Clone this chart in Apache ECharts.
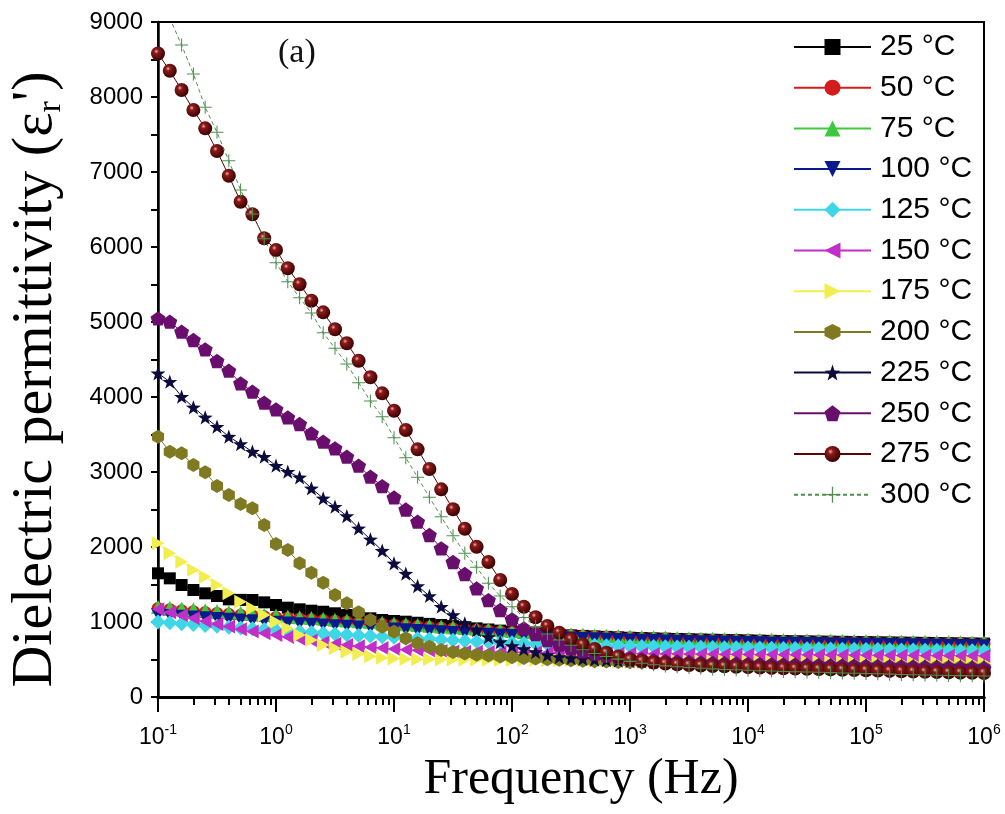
<!DOCTYPE html>
<html><head><meta charset="utf-8">
<script src="https://cdn.jsdelivr.net/npm/echarts@6/dist/echarts.min.js"></script>
<style>html,body{margin:0;padding:0;background:#fff}#c{width:1005px;height:814px}</style>
</head><body><div id="c"></div>
<script>
// log10 of frequency (Hz), 10 points per decade from 10^-1 to 10^6
const logFreq = [
 -1.0,-0.9,-0.8,-0.7,-0.6,-0.5,-0.4,-0.3,-0.2,-0.1,
  0.0, 0.1, 0.2, 0.3, 0.4, 0.5, 0.6, 0.7, 0.8, 0.9,
  1.0, 1.1, 1.2, 1.3, 1.4, 1.5, 1.6, 1.7, 1.8, 1.9,
  2.0, 2.1, 2.2, 2.3, 2.4, 2.5, 2.6, 2.7, 2.8, 2.9,
  3.0, 3.1, 3.2, 3.3, 3.4, 3.5, 3.6, 3.7, 3.8, 3.9,
  4.0, 4.1, 4.2, 4.3, 4.4, 4.5, 4.6, 4.7, 4.8, 4.9,
  5.0, 5.1, 5.2, 5.3, 5.4, 5.5, 5.6, 5.7, 5.8, 5.9,
  6.0];
const tickExponents = [-1, 0, 1, 2, 3, 4, 5, 6];
const yTicks = [0, 1000, 2000, 3000, 4000, 5000, 6000, 7000, 8000, 9000];
const legendNames = ['25 °C','50 °C','75 °C','100 °C','125 °C','150 °C','175 °C','200 °C','225 °C','250 °C','275 °C','300 °C'];

const t25 = [1649,1582,1493,1427,1382,1347,1302,1295,1293,1262,
 1227,1191,1169,1151,1137,1116,1093,1071,1049,1027,
 1013,1004,990,975,960,945,930,915,900,885,
 870,858,848,838,830,822,815,808,802,796,
 790,786,782,778,774,770,767,764,761,758,
 755,752,749,746,744,742,740,738,736,734,
 732,730,728,726,724,722,720,718,716,714,
 712];
const t50 = [1180,1165,1150,1138,1126,1114,1102,1090,1080,1070,
 1060,1050,1040,1030,1020,1010,1000,990,980,970,
 960,950,940,930,920,910,900,890,880,870,
 860,850,842,834,826,818,810,804,798,792,
 786,781,776,772,768,764,760,757,754,751,
 748,745,742,740,738,736,734,732,730,728,
 726,724,722,720,718,716,714,712,710,708,
 706];
const t75 = [1200,1190,1180,1170,1158,1146,1134,1122,1110,1098,
 1086,1075,1064,1053,1042,1031,1020,1010,1000,990,
 980,970,960,950,940,930,920,910,900,890,
 880,870,862,854,846,838,830,824,818,812,
 806,801,796,792,788,784,780,777,774,771,
 768,765,762,760,758,756,754,752,750,748,
 746,744,742,740,738,736,734,732,730,728,
 726];
const t100 = [1100,1090,1080,1070,1060,1050,1040,1030,1020,1010,
 1000,990,981,972,963,954,945,936,927,918,
 909,900,891,882,873,864,855,846,838,830,
 822,815,808,801,795,789,783,778,773,768,
 763,759,755,751,747,744,741,738,735,732,
 729,726,723,721,719,717,715,713,711,709,
 707,705,703,701,699,697,695,693,691,689,
 687];
const t125 = [1000,990,978,966,954,942,930,920,910,900,
 890,880,870,860,850,840,830,820,812,804,
 796,788,780,772,764,756,748,740,734,728,
 722,716,711,706,701,697,693,689,685,681,
 678,675,672,669,666,664,662,660,658,656,
 654,652,650,648,646,644,642,640,638,636,
 634,632,630,628,626,624,622,620,618,616,
 614];
const t150 = [1170,1130,1090,1050,1010,975,940,905,875,850,
 827,800,775,752,730,710,692,676,664,652,
 640,630,622,616,612,608,605,602,600,598,
 596,594,592,590,588,586,584,582,580,578,
 576,575,574,573,572,571,570,569,568,567,
 566,565,564,563,562,561,560,559,558,557,
 556,555,554,553,552,551,550,549,548,547,
 546];
const t175 = [2049,1916,1804,1693,1604,1493,1382,1271,1182,1093,
 1004,916,827,760,693,649,604,573,545,525,
 512,507,504,502,500,499,498,497,496,495,
 494,493,492,491,490,489,488,487,486,485,
 484,483,482,481,480,479,478,477,476,475,
 474,473,472,471,470,469,468,467,466,465,
 464,463,462,461,460,459,458,457,456,455,
 454];
const t200 = [3471,3271,3249,3093,2996,2813,2693,2573,2516,2293,
 2040,1960,1782,1657,1524,1360,1249,1129,1027,937,
 871,783,716,671,627,600,580,565,552,540,
 530,520,512,504,497,490,484,478,473,468,
 464,460,456,453,450,447,444,441,439,437,
 435,433,431,429,427,425,423,421,419,417,
 415,413,411,409,407,405,403,401,399,397,
 395];
const t225 = [4316,4204,4004,3862,3729,3604,3471,3373,3271,3204,
 3084,3004,2929,2782,2649,2537,2413,2249,2102,1951,
 1782,1645,1480,1347,1204,1093,983,893,800,733,
 680,640,600,560,533,520,510,500,492,485,
 479,474,470,466,462,459,456,453,450,448,
 446,444,442,440,438,436,434,432,430,428,
 426,424,422,420,418,416,414,412,410,408,
 406];
const t250 = [5049,5004,4871,4760,4636,4480,4351,4183,4071,3924,
 3836,3729,3640,3516,3404,3316,3204,3084,2937,2813,
 2662,2500,2337,2160,1983,1800,1640,1449,1293,1160,
 1036,916,840,760,700,650,610,580,555,535,
 518,504,492,482,474,467,461,456,451,447,
 443,439,436,433,430,427,424,421,418,415,
 412,409,406,403,400,397,394,391,388,385,
 382];
const t275 = [8580,8350,8093,7827,7582,7280,6950,6604,6436,6116,
 5960,5716,5503,5284,5129,4903,4716,4484,4263,4049,
 3817,3560,3302,3040,2769,2503,2244,2004,1800,1560,
 1373,1204,1063,947,857,769,700,640,590,540,
 500,478,460,446,435,427,420,414,409,404,
 398,393,388,384,380,376,372,368,364,360,
 356,352,348,344,340,336,332,328,325,322,
 320];
const t300 = [9500,9050,8693,8307,7864,7529,7151,6760,6440,6110,
 5791,5538,5324,5120,4857,4649,4440,4191,3947,3737,
 3457,3191,2929,2663,2404,2151,1916,1729,1516,1347,
 1204,1060,940,840,760,690,630,580,540,505,
 475,450,430,415,402,392,383,375,368,362,
 356,351,346,341,337,333,329,325,321,317,
 313,309,305,301,297,294,291,288,285,282,
 280];

const seriesValues = [t25,t50,t75,t100,t125,t150,t175,t200,t225,t250,t275,t300];

const P = {
  down: 'path://M0,0 L10,0 L5,9 Z',
  left: 'path://M9,0 L9,10 L0,5 Z',
  right: 'path://M0,0 L9,5 L0,10 Z',
  hex: 'path://M5,0 L9.33,2.5 L9.33,7.5 L5,10 L0.67,7.5 L0.67,2.5 Z',
  star: 'path://M5,0 L6.18,3.38 L9.76,3.45 L6.9,5.62 L7.94,9.05 L5,7 L2.06,9.05 L3.1,5.62 L0.24,3.45 L3.82,3.38 Z',
  pent: 'path://M5,0 L9.76,3.45 L7.94,9.05 L2.06,9.05 L0.24,3.45 Z',
  plus: 'path://M4.6,0 L5.4,0 L5.4,4.6 L10,4.6 L10,5.4 L5.4,5.4 L5.4,10 L4.6,10 L4.6,5.4 L0,5.4 L0,4.6 L4.6,4.6 Z'
};
const maroonFill = {type:'radial', x:0.38, y:0.35, r:0.65, colorStops:[
  {offset:0, color:'#f0b0b0'},{offset:0.25, color:'#8c1a1a'},{offset:1, color:'#3a0202'}]};

const styles = [
  {color:'#000000', symbol:'rect', size:12},
  {color:'#d41c1c', symbol:'circle', size:13},
  {color:'#3ec83e', symbol:'triangle', size:14},
  {color:'#0a1a8a', symbol:P.down, size:14},
  {color:'#3fd6e6', symbol:'diamond', size:15},
  {color:'#c030c8', symbol:P.left, size:14},
  {color:'#f2ee50', symbol:P.right, size:14},
  {color:'#7f7a22', symbol:P.hex, size:14},
  {color:'#0b0b3e', symbol:P.star, size:15},
  {color:'#6a0e6e', symbol:P.pent, size:15},
  {color:'#5a0505', symbol:'circle', size:14, fill:maroonFill},
  {color:'#4f8f4f', symbol:P.plus, size:13, dashed:true}
];

// tick positions: powers of ten and the 2..9 subdivisions of each decade (log10 scale)
const allTicks = [];
for (let n = -1; n < 6; n++) for (let k = 1; k <= 9; k++) allTicks.push(n + Math.log10(k));
allTicks.push(6);

const series = seriesValues.map((vals, si) => {
  const st = styles[si];
  return {
    name: legendNames[si],
    type: 'line',
    xAxisIndex: 0, yAxisIndex: 0,
    data: vals.map((v, i) => [logFreq[i], v]),
    symbol: st.symbol,
    symbolSize: st.size,
    symbolKeepAspect: true,
    showSymbol: true,
    showAllSymbol: true,
    lineStyle: {color: st.color, width: 1, type: st.dashed ? [4, 3] : 'solid'},
    itemStyle: {color: st.fill || st.color, borderWidth: 0},
    emphasis: {disabled: true},
    clip: true
  };
});

const chart = echarts.init(document.getElementById('c'), null, {renderer: 'canvas'});
chart.setOption({
  animation: false,
  backgroundColor: '#ffffff',
  title: {text: '(a)', left: 273, top: 31,
    textStyle: {fontFamily: 'Liberation Serif', fontSize: 34, fontWeight: 'normal', color: '#111'}},
  grid: [
    {left: 158, right: 21, top: 22, bottom: 117, show: true, borderColor: '#000', borderWidth: 2, containLabel: false, outerBoundsMode: 'none'},
    {left: 158, right: 21, top: 22, bottom: 117, show: false, containLabel: false, outerBoundsMode: 'none'}
  ],
  legend: {
    orient: 'vertical', left: 793, top: 32, padding: 0,
    itemWidth: 77, itemHeight: 20, itemGap: 10.7,
    data: legendNames,
    textStyle: {fontFamily: 'Liberation Sans', fontSize: 30, color: '#000', padding: [0,0,0,4]}
  },
  xAxis: [
    {
      type: 'value', gridIndex: 0, min: -1, max: 6, interval: 1,
      name: 'Frequency (Hz)', nameLocation: 'middle', nameGap: 56,
      nameTextStyle: {fontFamily: 'Liberation Serif', fontSize: 50, color: '#000', padding: [0,0,0,20]},
      axisLine: {show: true, lineStyle: {color: '#000', width: 3}},
      axisTick: {show: true, inside: false, length: 8, customValues: allTicks, lineStyle: {color: '#000', width: 2}},
      splitLine: {show: false},
      axisLabel: {
        show: true,
        margin: 26,
        formatter: v => tickExponents.indexOf(v) >= 0 ? '{b|10}{s|' + v + '}' : '',
        rich: {
          b: {fontFamily: 'Liberation Sans', fontSize: 23, color: '#000', lineHeight: 30},
          s: {fontFamily: 'Liberation Sans', fontSize: 14, color: '#000', verticalAlign: 'top', lineHeight: 16}
        }
      }
    },
    {
      type: 'value', gridIndex: 1, min: -1, max: 6, interval: 1, position: 'bottom',
      axisLine: {show: true, lineStyle: {color: '#000', width: 3}},
      axisTick: {show: true, inside: false, length: 15, lineStyle: {color: '#000', width: 2}},
      axisLabel: {show: false},
      splitLine: {show: false}
    }
  ],
  yAxis: [
    {
      type: 'value', gridIndex: 0, min: 0, max: 9000, interval: 1000,
      name: "{t|Dielectric permittivity (ε}{sub|r}{t|')}",
      nameLocation: 'middle', nameGap: 90,
      nameTextStyle: {
        padding: [0, 40, 0, 0],
        rich: {
          t: {fontFamily: 'Liberation Serif', fontSize: 58, color: '#000', lineHeight: 64},
          sub: {fontFamily: 'Liberation Serif', fontSize: 34, color: '#000', verticalAlign: 'bottom', lineHeight: 44}
        }
      },
      axisLine: {show: true, onZero: false, lineStyle: {color: '#000', width: 2.5}},
      axisTick: {show: true, inside: false, length: 7, lineStyle: {color: '#000', width: 2}},
      minorTick: {show: true, splitNumber: 2, length: 7, lineStyle: {color: '#000', width: 2}},
      splitLine: {show: false},
      axisLabel: {fontFamily: 'Liberation Sans', fontSize: 24, color: '#000', margin: 15,
        formatter: v => yTicks.indexOf(v) >= 0 ? String(v) : ''}
    },
    {type: 'value', gridIndex: 1, min: 0, max: 1, show: false, axisLine: {onZero: false}}
  ],
  series: series
});
</script>
</body></html>
